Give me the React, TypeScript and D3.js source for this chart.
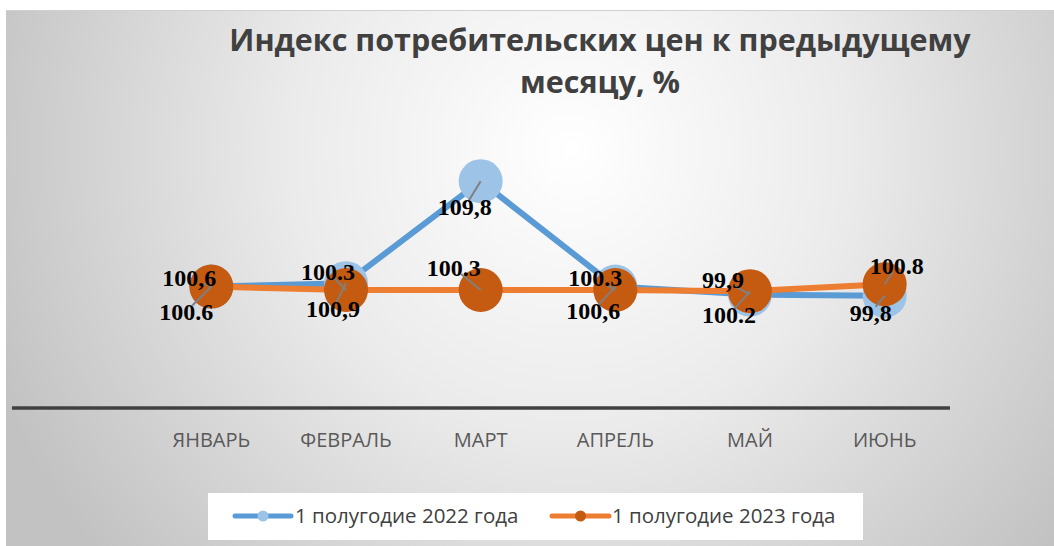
import React from "react";
import * as d3 from "d3";

const W = 1054;
const H = 546;

const months = ["ЯНВАРЬ", "ФЕВРАЛЬ", "МАРТ", "АПРЕЛЬ", "МАЙ", "ИЮНЬ"];
const values2022 = [100.6, 100.9, 109.8, 100.6, 99.9, 99.8];
const values2023 = [100.6, 100.3, 100.3, 100.3, 100.2, 100.8];
const labels2022 = ["100,6", "100,9", "109,8", "100,6", "99,9", "99,8"];
const labels2023 = ["100.6", "100.3", "100.3", "100.3", "100.2", "100.8"];
const seriesNames = ["1 полугодие 2022 года", "1 полугодие 2023 года"];
const titleLines = ["Индекс потребительских цен к предыдущему", "месяцу, %"];

// label placement offsets (px) relative to the point
const off2022 = [[-22, -9], [-13, 26], [-16, 26], [-22, 24], [-27, -15], [-14, 17]];
const off2023 = [[-25, 25], [-18, -18], [-27, -22], [-20, -12], [-21, 24], [12, -18]];

const x = d3.scaleBand<string>().domain(months).range([144, 952]);
const y = d3.scaleLinear().domain([90, 112]).range([408, 156]);
const cx = (m: string) => (x(m) as number) + x.bandwidth() / 2;

const line = d3
  .line<number>()
  .x((_, i) => cx(months[i]))
  .y((v) => y(v));

function leader(px: number, py: number, lx: number, ly: number, hw: number, hh: number) {
  const dx = lx - px;
  const dy = ly - py;
  const tx = dx !== 0 ? hw / Math.abs(dx) : Infinity;
  const ty = dy !== 0 ? hh / Math.abs(dy) : Infinity;
  const t = Math.min(tx, ty, 1);
  return [lx - dx * t, ly - dy * t];
}

export default function App() {
  const series = [
    { vals: values2022, labels: labels2022, offs: off2022, line: "#5B9BD5", fill: "#9DC3E6" },
    { vals: values2023, labels: labels2023, offs: off2023, line: "#ED7D31", fill: "#C55A11" },
  ];
  const legendItems = [
    { x0: 235, x1: 291, tx: 295, s: series[0], name: seriesNames[0] },
    { x0: 552, x1: 609, tx: 612, s: series[1], name: seriesNames[1] },
  ];
  return (
    <div style={{ position: "absolute", left: 0, top: 0, width: W, height: H }}>
      <svg width={W} height={H} style={{ display: "block" }}>
        <defs>
          <radialGradient id="bg" cx="570" cy="150" r="620" gradientUnits="userSpaceOnUse">
            <stop offset="0" stopColor="#ffffff" />
            <stop offset="0.45" stopColor="#ebebeb" />
            <stop offset="1" stopColor="#c2c2c2" />
          </radialGradient>
        </defs>
        <rect x={0} y={0} width={W} height={H} fill="#ffffff" />
        <rect x={6} y={10} width={W - 6} height={H - 10} fill="url(#bg)" />
        <line x1={6} x2={W} y1={10.5} y2={10.5} stroke="#d0d0d0" strokeWidth={1} />

        {titleLines.map((t, i) => (
          <text
            key={i}
            x={600}
            y={51 + i * 42}
            textAnchor="middle"
            fontFamily="'Open Sans', sans-serif"
            fontWeight="bold"
            fontSize={30.5}
            fill="#404040"
          >
            {t}
          </text>
        ))}

        <line x1={12} x2={950} y1={y(90)} y2={y(90)} stroke="#404040" strokeWidth={3.5} />

        {months.map((m) => (
          <text
            key={m}
            x={cx(m)}
            y={447}
            textAnchor="middle"
            fontFamily="'Open Sans', sans-serif"
            fontSize={20}
            fill="#595959"
          >
            {m}
          </text>
        ))}

        {series.map((s, si) => (
          <g key={si}>
            <path d={line(s.vals) || ""} fill="none" stroke={s.line} strokeWidth={6} strokeLinejoin="round" />
            {s.vals.map((v, i) => (
              <circle key={i} cx={cx(months[i])} cy={y(v)} r={22} fill={s.fill} />
            ))}
          </g>
        ))}

        {series.map((s, si) => (
          <g key={"lab" + si}>
            {s.vals.map((v, i) => {
              const px = cx(months[i]);
              const py = y(v);
              const lx = px + s.offs[i][0];
              const ly = py + s.offs[i][1];
              const [ex, ey] = leader(px, py, lx, ly, 22, 6);
              return (
                <g key={i}>
                  <line x1={px} y1={py} x2={ex} y2={ey} stroke="#808080" strokeWidth={2} />
                  <text
                    x={lx}
                    y={ly + 8}
                    textAnchor="middle"
                    fontFamily="'Liberation Serif', 'Times New Roman', serif"
                    fontWeight="bold"
                    fontSize={24}
                    fill="#000000"
                  >
                    {s.labels[i]}
                  </text>
                </g>
              );
            })}
          </g>
        ))}

        <rect x={208} y={493} width={655} height={47} fill="#ffffff" />
        {legendItems.map((it, i) => (
          <g key={i}>
            <line x1={it.x0} x2={it.x1} y1={516} y2={516} stroke={it.s.line} strokeWidth={5} strokeLinecap="round" />
            <circle cx={(it.x0 + it.x1) / 2} cy={516} r={5.5} fill={it.s.fill} />
            <text
              x={it.tx}
              y={523}
              fontFamily="'Open Sans', sans-serif"
              fontSize={20.5}
              fill="#404040"
            >
              {it.name}
            </text>
          </g>
        ))}
      </svg>
    </div>
  );
}
